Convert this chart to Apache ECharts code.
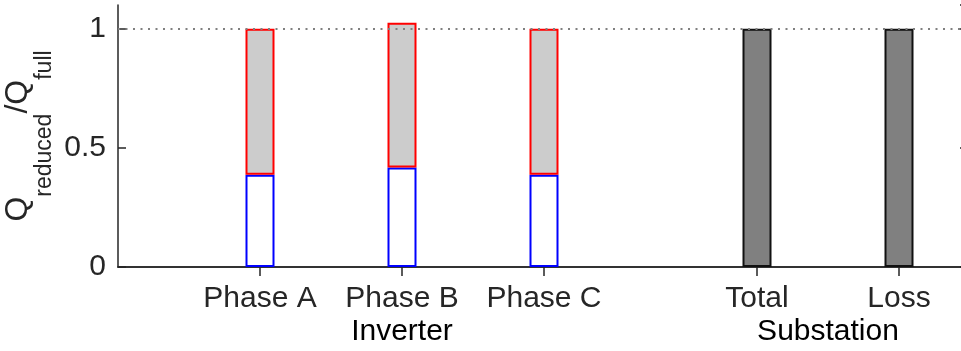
<!DOCTYPE html>
<html>
<head>
<meta charset="utf-8">
<title>Q reduced / Q full</title>
<script src="https://cdn.jsdelivr.net/npm/echarts@6/dist/echarts.min.js"></script>
<style>
    html, body { margin: 0; padding: 0; background: #fff; }
    #chart { width: 961px; height: 351px; }
</style>
</head>
<body>
<div id="chart"></div>
<script>
    // half-unit slots along x (0 .. 6); the labelled ones carry the bars
    var tickLabels = ['', '', 'Phase A', '', 'Phase B', '', 'Phase C', '', '', 'Total', '', 'Loss', ''];
    var groupLabels = ['', '', '', '', 'Inverter', '', '', '', '', '', 'Substation', '', ''];

    // inverter phases: lower (blue) part and top of the grey part
    var inverterSlots = [2, 4, 6];
    var inverterLower = [0.387, 0.418, 0.387];
    var inverterTop = [1.0, 1.025, 1.0];
    // substation bars
    var substationSlots = [9, 11];
    var substation = [1.0, 1.0];

    var axisColor = '#262626';
    var font = 'Liberation Sans, Arial, Helvetica, sans-serif';

    function fill(slots, values) {
        var out = tickLabels.map(function () { return null; });
        slots.forEach(function (s, i) { out[s] = values[i]; });
        return out;
    }

    var lowerData = fill(inverterSlots, inverterLower);
    var upperData = fill(inverterSlots, inverterTop.map(function (v, i) { return +(v - inverterLower[i]).toFixed(3); }));
    var subData = fill(substationSlots, substation);

    function hasTick(index) { return tickLabels[index] !== ''; }

    var chart = echarts.init(document.getElementById('chart'), null, {renderer: 'canvas'});

    var option = {
        animation: false,
        grid: {
            left: 118,
            top: 5,
            right: -9,
            bottom: 84,
            outerBoundsMode: 'none'
        },
        xAxis: [{
            type: 'category',
            position: 'bottom',
            boundaryGap: false,
            data: tickLabels,
            axisLine: { lineStyle: { color: axisColor, width: 1.5 } },
            axisTick: { inside: true, length: 9, interval: hasTick, lineStyle: { color: axisColor, width: 1.5 } },
            axisLabel: {
                interval: hasTick,
                margin: 17,
                fontSize: 30,
                fontFamily: font,
                color: axisColor
            },
            splitLine: { show: false }
        }, {
            type: 'category',
            position: 'top',
            boundaryGap: false,
            data: tickLabels,
            axisLine: { lineStyle: { color: axisColor, width: 1.5 } },
            axisTick: { inside: true, length: 9, interval: hasTick, lineStyle: { color: axisColor, width: 1.5 } },
            axisLabel: { show: false },
            splitLine: { show: false }
        }, {
            // group names under the tick labels
            type: 'category',
            position: 'bottom',
            offset: 36,
            boundaryGap: false,
            data: groupLabels,
            axisLine: { show: false },
            axisTick: { show: false },
            axisLabel: {
                interval: function (i) { return groupLabels[i] !== ''; },
                margin: 14,
                fontSize: 30,
                fontFamily: font,
                color: '#000'
            },
            splitLine: { show: false }
        }],
        yAxis: [{
            type: 'value',
            position: 'left',
            min: 0,
            max: 1.1,
            interval: 0.5,
            name: '{q|Q}{s|reduced}{q|/Q}{s|full}',
            nameLocation: 'middle',
            nameRotate: 90,
            nameGap: 62,
            nameMoveOverlap: false,
            nameTextStyle: {
                fontFamily: font,
                color: axisColor,
                rich: {
                    q: { fontSize: 32, fontFamily: font, color: axisColor, lineHeight: 32, verticalAlign: 'top' },
                    s: { fontSize: 23, fontFamily: font, color: axisColor, lineHeight: 54, verticalAlign: 'bottom' }
                }
            },
            axisLine: { show: true, lineStyle: { color: axisColor, width: 1.5 } },
            axisTick: { show: true, inside: true, length: 8, lineStyle: { color: axisColor, width: 1.5 } },
            axisLabel: {
                margin: 12,
                fontSize: 30,
                fontFamily: font,
                color: axisColor,
                showMaxLabel: false,
                formatter: function (v) { return v > 1.05 ? '' : String(v); }
            },
            splitLine: { show: false }
        }, {
            type: 'value',
            position: 'right',
            min: 0,
            max: 1.1,
            interval: 0.5,
            axisLine: { show: true, lineStyle: { color: axisColor, width: 1.5 } },
            axisTick: { show: true, inside: true, length: 10, lineStyle: { color: axisColor, width: 1.5 } },
            axisLabel: { show: false },
            splitLine: { show: false }
        }],
        series: [
            {
                name: 'lower',
                type: 'bar',
                stack: 'q',
                barWidth: 29,
                data: lowerData,
                itemStyle: { color: '#ffffff', borderColor: '#0000ff', borderWidth: 2 }
            },
            {
                name: 'upper',
                type: 'bar',
                stack: 'q',
                barWidth: 29,
                data: upperData,
                itemStyle: { color: '#cccccc', borderColor: '#ff0000', borderWidth: 2 }
            },
            {
                name: 'substation',
                type: 'bar',
                stack: 'q',
                barWidth: 29,
                data: subData,
                itemStyle: { color: '#808080', borderColor: '#111111', borderWidth: 2 },
                markLine: {
                    silent: true,
                    symbol: 'none',
                    label: { show: false },
                    lineStyle: { color: '#808080', width: 2, type: [2, 5.5] },
                    data: [{ yAxis: 1 }]
                }
            }
        ]
    };

    chart.setOption(option);
</script>
</body>
</html>
